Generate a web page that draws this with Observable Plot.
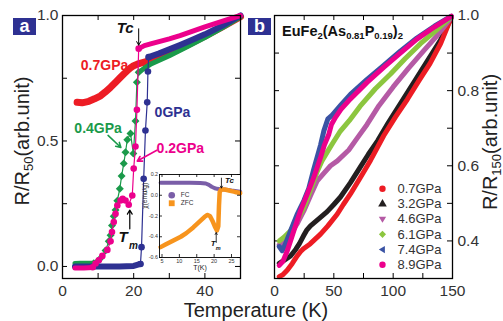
<!DOCTYPE html>
<html><head><meta charset="utf-8">
<script src="https://cdn.jsdelivr.net/npm/d3@7"></script>
<script src="https://cdn.jsdelivr.net/npm/@observablehq/plot@0.6"></script>
<style>
body{margin:0;background:#fff;}
#wrap{position:relative;width:503px;height:321px;overflow:hidden;background:#fff;font-family:"Liberation Sans",Arial,Helvetica,sans-serif;}
.box{position:absolute;width:23px;height:17px;background:#2e3192;color:#fff;font-weight:bold;font-size:18px;line-height:16px;text-align:center;}
.ylab{position:absolute;width:220px;height:24px;line-height:24px;text-align:center;font-size:20px;color:#222;transform:rotate(-90deg);white-space:nowrap;}
.ylab sub{font-size:13px;vertical-align:baseline;position:relative;top:4px;}
.xlab{position:absolute;width:220px;text-align:center;font-size:20px;line-height:20px;color:#222;white-space:nowrap;}
.title{position:absolute;font-size:14.5px;line-height:15px;font-weight:bold;color:#111;white-space:nowrap;}
.title sub{font-size:9.5px;vertical-align:baseline;position:relative;top:3px;}
</style></head>
<body>
<div id="wrap">
  <div class="box" style="left:13px;top:18px;">a</div>
  <div class="box" style="left:248px;top:18px;">b</div>
  <div class="ylab" style="left:-88px;top:129px;">R/R<sub>50</sub>(arb.unit)</div>
  <div class="ylab" style="left:380px;top:130px;">R/R<sub>150</sub>(arb.unit)</div>
  <div class="xlab" style="left:146px;top:300px;">Temperature (K)</div>
  <div class="title" style="left:282px;top:24px;">EuFe<sub>2</sub>(As<sub>0.81</sub>P<sub>0.19</sub>)<sub>2</sub></div>
</div>
<script>
// ---------------- Panel a data (T in K, R/R50) ----------------
const aXTicks = [0, 10, 20, 30, 40, 50];
const aXLabels = [0, 20, 40];
const aYTicks = [0, 0.25, 0.5, 0.75, 1.0];
const aYLabels = [0, 0.5, 1.0];

const aRed07 = [[4.1,0.654],[5.5,0.652],[7.4,0.658],[9,0.668],[10.7,0.68],[12,0.695],[13.5,0.714],[15,0.735],[16.3,0.754],[17.3,0.768],[18.2,0.78],[19.1,0.791],[20,0.8],[21,0.806],[22,0.81],[25,0.822],[30,0.848],[35,0.882],[40,0.918],[45,0.956],[50,0.995]];

const aGreenLow = [[3.5,0.012],[5,0.013],[7,0.013],[8.8,0.013]];
const aGreenMid = [[8.8,0.013],[9.8,0.02],[10.7,0.033],[12.1,0.064],[13,0.1],[13.5,0.124],[13.9,0.163],[14.4,0.2],[14.9,0.225],[15.4,0.262],[16.1,0.31],[16.6,0.36],[17.2,0.41],[17.7,0.455],[18.2,0.505],[19.1,0.53],[19.9,0.45],[20.5,0.58],[20.9,0.734],[21.4,0.774]];
const aGreenHigh = [[21.4,0.774],[23,0.79],[25,0.808],[30,0.84],[35,0.875],[40,0.912],[45,0.952],[50,0.995]];

const aBlueLow = [[3.5,0.0],[8,0.0],[12,0.0],[16,0.0],[20,0.002],[21.9,0.01]];
const aBlueMid = [[21.9,0.01],[22.2,0.077],[22.8,0.349],[23.3,0.542],[23.8,0.654],[24,0.777],[24.2,0.834]];
const aBlueHigh = [[24.2,0.834],[27,0.848],[30,0.865],[33,0.882],[36,0.9],[40,0.925],[45,0.96],[50,1.0]];

const aPinkLow = [[3.5,-0.006],[6,-0.006],[8.5,-0.004]];
const aPinkMid = [[8.5,-0.003],[9.3,0.012],[10.2,0.025],[11.2,0.042],[12.6,0.066],[13.5,0.1],[13.9,0.137],[14.4,0.177],[14.9,0.21],[15.4,0.243],[16.3,0.263],[16.9,0.27],[17.7,0.263],[18.6,0.246],[19.6,0.283],[20,0.39],[20.5,0.478],[20.9,0.624],[21.4,0.868]];
const aPinkHigh = [[21.4,0.868],[23,0.88],[25,0.888],[30,0.907],[33,0.92],[36,0.935],[40,0.955],[45,0.978],[50,1.0]];

const aLabels = [
  {text:"0.7GPa", T:11.8, R:0.801, color:"#ed1c24"},
  {text:"0GPa",   T:30.9, R:0.614, color:"#2e3192"},
  {text:"0.4GPa", T:10.0, R:0.55,  color:"#1a9a4a"},
  {text:"0.2GPa", T:33.1, R:0.469, color:"#ec008c"}
];
const aLeaders = [
  {T1:12.8, R1:0.522, T2:16.4, R2:0.474, color:"#1a9a4a"},
  {T1:26.5, R1:0.463, T2:21.0, R2:0.42,  color:"#ec008c"}
];
const aTcArrow = [{T1:21.4, R1:0.947, T2:21.4, R2:0.882}];
const aTmArrow = [{T1:18.9, R1:0.15, T2:18.9, R2:0.225}];

// ---------------- Inset data (T in K, chi emu/g) ----------------
const inXTicks = [5, 10, 15, 20, 25];
const inYTicks = [-0.6, -0.4, -0.2, 0.0, 0.2];
const inFC = [[4.6,0.12],[7,0.12],[10,0.12],[13,0.12],[16,0.119],[17.6,0.113],[18.5,0.1],[19.3,0.082],[20.2,0.068],[20.9,0.062],[21.8,0.058],[23,0.055],[25,0.045],[27.5,0.035]];
const inZFC = [[4.6,-0.5],[6,-0.475],[8,-0.44],[10.4,-0.4],[12,-0.365],[14,-0.31],[16.1,-0.245],[17.2,-0.21],[18,-0.19],[18.8,-0.2],[19.5,-0.245],[20.2,-0.3],[20.8,-0.34],[21.2,-0.3],[21.4,-0.1],[21.6,0.03],[22,0.055],[23,0.055],[24,0.048],[25,0.04],[26,0.032],[27.5,0.022]];
const inLegend = [{text:"FC", y:0.0, color:"#7a5ea8", symbol:"circle"},{text:"ZFC", y:-0.077, color:"#f7941d", symbol:"square"}];

// ---------------- Panel b data (T in K, R/R150) ----------------
const bXTicks = [0, 25, 50, 75, 100, 125, 150];
const bXLabels = [0, 50, 100, 150];
const bYTicks = [0.3, 0.4, 0.5, 0.6, 0.7, 0.8, 0.9, 1.0];
const bYLabels = [0.4, 0.6, 0.8, 1.0];
const pressures = ["0.7GPa","3.2GPa","4.6GPa","6.1GPa","7.4GPa","8.9GPa"];
const bColors = ["#ed1c24","#231f20","#b55aa5","#8cc63f","#3a53a4","#ec008c"];

const b07 = [[4,0.305],[7,0.31],[10.7,0.322],[15,0.34],[19.1,0.36],[22,0.372],[24.7,0.38],[30,0.392],[38.8,0.418],[45,0.44],[52.8,0.471],[58,0.497],[64,0.525],[72,0.567],[81,0.615],[92,0.68],[102,0.73],[112,0.777],[122,0.828],[131,0.872],[140,0.925],[149,0.995]];
const b32 = [[4,0.34],[8,0.348],[13.5,0.36],[18,0.378],[21,0.393],[24.7,0.415],[27,0.428],[30.3,0.44],[37,0.458],[44.4,0.478],[50,0.497],[55.6,0.517],[64,0.555],[72,0.595],[79,0.63],[87,0.667],[96,0.715],[106,0.765],[118,0.825],[129,0.88],[140,0.935],[149,0.995]];
const b46 = [[4,0.39],[8,0.4],[13.5,0.418],[19,0.445],[24.7,0.48],[30.3,0.52],[36,0.56],[41.5,0.58],[47.2,0.6],[53,0.613],[62.6,0.642],[70,0.675],[78,0.71],[88,0.76],[100,0.81],[113,0.86],[126,0.907],[138,0.95],[149,0.995]];
const b61 = [[4,0.4],[8,0.41],[13.5,0.427],[19,0.455],[24.7,0.489],[30.3,0.535],[36,0.585],[40,0.613],[44.5,0.637],[49,0.66],[55,0.69],[63,0.72],[72,0.758],[85,0.805],[98,0.845],[110,0.885],[123,0.925],[136,0.96],[149,0.997]];
const b74 = [[4,0.385],[6.5,0.374],[9,0.39],[13.5,0.427],[19,0.47],[24.7,0.507],[28.9,0.54],[33,0.59],[38.8,0.655],[41.6,0.693],[45,0.725],[48.6,0.735],[56,0.762],[64,0.79],[78,0.83],[92,0.867],[106,0.905],[120,0.94],[135,0.972],[149,0.998]];
const b89 = [[4,0.335],[7,0.345],[10.7,0.373],[13.5,0.4],[16.3,0.427],[21.9,0.48],[27.5,0.524],[33.1,0.569],[38.8,0.622],[42,0.655],[45.8,0.684],[48,0.71],[51.4,0.729],[56,0.75],[64,0.778],[78,0.822],[92,0.862],[106,0.9],[120,0.937],[135,0.97],[149,0.998]];
const bSeries = [b07, b32, b46, b61, b74, b89];

// ---------------- helpers ----------------
const FONT = '"Liberation Sans", Arial, Helvetica, sans-serif';
const wrap = document.getElementById("wrap");
function place(el, left, top) {
  el.style.position = "absolute";
  el.style.left = left + "px";
  el.style.top = top + "px";
  wrap.appendChild(el);
}
function inTicks(xs, ys, fw, fh, len, sw) {
  return [
    Plot.tickX(xs, {x: d => d, insetTop: fh - len, stroke: "#000", strokeWidth: sw}),
    Plot.tickX(xs, {x: d => d, insetBottom: fh - len, stroke: "#000", strokeWidth: sw}),
    Plot.tickY(ys, {y: d => d, insetRight: fw - len, stroke: "#000", strokeWidth: sw}),
    Plot.tickY(ys, {y: d => d, insetLeft: fw - len, stroke: "#000", strokeWidth: sw})
  ];
}
const X = d => d[0], Y = d => d[1];
const fmt1 = d => (d < 0 ? "-" : "") + Math.abs(d).toFixed(1);
const band = (data, color, w) => Plot.line(data, {x: X, y: Y, stroke: color, strokeWidth: w, strokeLinecap: "round", strokeLinejoin: "round"});
const thin = (data, color) => Plot.line(data, {x: X, y: Y, stroke: color, strokeWidth: 1.2});

const RED = "#ed1c24", GREEN = "#1a9a4a", BLUE = "#2e3192", PINK = "#ec008c";

// ---------------- Panel a ----------------
const pa = Plot.plot({
  width: 250, height: 321,
  marginLeft: 62, marginRight: 10, marginTop: 15, marginBottom: 43,
  x: {domain: [0, 50]},
  y: {domain: [-0.048, 1.0]},
  style: {fontFamily: FONT, background: "transparent", color: "#333", overflow: "visible"},
  marks: [
    ...inTicks(aXTicks, aYTicks, 178, 263, 5, 1),
    Plot.axisX(aXLabels, {anchor: "bottom", tickSize: 0, tickPadding: 6, fontSize: 15.5, label: null, tickFormat: d => String(d)}),
    Plot.axisY(aYLabels, {anchor: "left", tickSize: 0, tickPadding: 4, fontSize: 15.5, label: null, tickFormat: fmt1}),
    band(aRed07, RED, 7),
    band(aGreenLow, GREEN, 5),
    thin(aGreenMid, GREEN),
    Plot.dot(aGreenMid, {x: X, y: Y, symbol: "diamond2", r: 3.6, fill: GREEN}),
    band(aGreenHigh, GREEN, 5),
    band(aBlueLow, BLUE, 6),
    thin(aBlueMid, BLUE),
    Plot.dot(aBlueMid, {x: X, y: Y, r: 3.3, fill: BLUE}),
    band(aBlueHigh, BLUE, 6),
    band(aPinkLow, PINK, 5),
    thin(aPinkMid, PINK),
    Plot.dot(aPinkMid, {x: X, y: Y, r: 3.3, fill: PINK}),
    band(aPinkHigh, PINK, 5),
    Plot.text(aLabels, {x: "T", y: "R", text: "text", fill: "color", fontSize: 14, fontWeight: "bold"}),
    Plot.arrow(aLeaders, {x1: "T1", y1: "R1", x2: "T2", y2: "R2", stroke: "color", strokeWidth: 1.6, headLength: 5}),
    Plot.arrow(aTcArrow, {x1: "T1", y1: "R1", x2: "T2", y2: "R2", stroke: "#000", strokeWidth: 1, headLength: 6}),
    Plot.arrow(aTmArrow, {x1: "T1", y1: "R1", x2: "T2", y2: "R2", stroke: "#000", strokeWidth: 1.2, headLength: 6}),
    Plot.text(["Tc"], {x: 17.6, y: 0.95, fontSize: 15, fontWeight: "bold", fontStyle: "italic", fill: "#111"}),
    Plot.text(["T"], {x: 17.0, y: 0.117, fontSize: 15, fontWeight: "bold", fontStyle: "italic", fill: "#111"}),
    Plot.text(["m"], {x: 19.9, y: 0.082, fontSize: 10, fontWeight: "bold", fontStyle: "italic", fill: "#111"}),
    Plot.frame({stroke: "#000", strokeWidth: 1.3})
  ]
});
place(pa, 0, 0);

// ---------------- Inset ----------------
const pin = Plot.plot({
  width: 116, height: 114,
  marginLeft: 32, marginRight: 3, marginTop: 10, marginBottom: 21,
  x: {domain: [4.28, 27.59]},
  y: {domain: [-0.6, 0.2]},
  style: {fontFamily: FONT, background: "transparent", color: "#333", overflow: "visible"},
  marks: [
    Plot.frame({fill: "white", stroke: null}),
    Plot.line(inFC, {x: X, y: Y, stroke: "#7a5ea8", strokeWidth: 4, strokeLinecap: "round"}),
    Plot.line(inZFC, {x: X, y: Y, stroke: "#f7941d", strokeWidth: 4.5, strokeLinecap: "round", strokeLinejoin: "round"}),
    ...inTicks(inXTicks, inYTicks, 81, 83, 3, 0.8),
    Plot.axisX(inXTicks, {anchor: "bottom", tickSize: 0, tickPadding: 1.5, fontSize: 5.5, label: null, tickFormat: d => String(d)}),
    Plot.axisY(inYTicks, {anchor: "left", tickSize: 0, tickPadding: 1.5, fontSize: 5.3, label: null, tickFormat: fmt1}),
    Plot.text(["T(K)"], {frameAnchor: "bottom", dy: 12.5, fontSize: 7, fill: "#222"}),
    Plot.text(["\u03c7(emu/g)"], {y: -0.13, frameAnchor: "left", dx: -14.5, rotate: -90, fontSize: 6.5, fill: "#222"}),
    Plot.dot(inLegend, {x: 7.8, y: "y", symbol: "symbol", fill: "color", r: 3.3}),
    Plot.text(inLegend, {x: 10.4, y: "y", text: "text", fontSize: 6.5, textAnchor: "start", fill: "#333"}),
    Plot.arrow([{T1: 22.1, R1: 0.165, T2: 22.1, R2: 0.07}], {x1: "T1", y1: "R1", x2: "T2", y2: "R2", stroke: "#000", strokeWidth: 0.8, headLength: 4}),
    Plot.text(["Tc"], {x: 24.4, y: 0.14, fontSize: 8, fontWeight: "bold", fontStyle: "italic", fill: "#111"}),
    Plot.arrow([{T1: 20.6, R1: -0.455, T2: 20.6, R2: -0.36}], {x1: "T1", y1: "R1", x2: "T2", y2: "R2", stroke: "#000", strokeWidth: 0.8, headLength: 4}),
    Plot.text(["T"], {x: 19.7, y: -0.465, fontSize: 8, fontWeight: "bold", fontStyle: "italic", fill: "#111"}),
    Plot.text(["m"], {x: 21.2, y: -0.51, fontSize: 5.5, fontWeight: "bold", fontStyle: "italic", fill: "#111"}),
    Plot.frame({stroke: "#000", strokeWidth: 0.9})
  ]
});
place(pin, 127, 164);

// ---------------- Panel b ----------------
const symDown = {draw(ctx, size) { const r = Math.sqrt(size / Math.PI) * 1.15; ctx.moveTo(-r, -r * 0.65); ctx.lineTo(r, -r * 0.65); ctx.lineTo(0, r); ctx.closePath(); }};
const symLeft = {draw(ctx, size) { const r = Math.sqrt(size / Math.PI) * 1.15; ctx.moveTo(-r, 0); ctx.lineTo(r * 0.65, -r); ctx.lineTo(r * 0.65, r); ctx.closePath(); }};
const bSymbols = ["circle", "triangle", symDown, "diamond2", symLeft, "circle"];
const drawOrder = [1, 0, 2, 3, 4, 5];
const legX = 91, legTextX = 103.6, legY0 = 0.539, legStep = 0.0405;

const pb = Plot.plot({
  width: 253, height: 321,
  marginLeft: 24, marginRight: 51, marginTop: 15, marginBottom: 43,
  x: {domain: [0, 150]},
  y: {domain: [0.3, 1.0]},
  style: {fontFamily: FONT, background: "transparent", color: "#333", overflow: "visible"},
  marks: [
    ...inTicks(bXTicks, bYTicks, 178, 263, 5, 1),
    Plot.axisX(bXLabels, {anchor: "bottom", tickSize: 0, tickPadding: 6, fontSize: 15.5, label: null, tickFormat: d => String(d)}),
    Plot.axisY(bYLabels, {anchor: "right", tickSize: 0, tickPadding: 5, fontSize: 15.5, label: null, tickFormat: fmt1}),
    ...drawOrder.map(i => band(bSeries[i], bColors[i], 5)),
    ...pressures.map((p, i) => Plot.dot([p], {x: legX, y: legY0 - i * legStep, symbol: bSymbols[i], fill: bColors[i], r: 3.2})),
    Plot.text(pressures, {x: legTextX, y: (d, i) => legY0 - i * legStep, text: d => d, fontSize: 13, textAnchor: "start", fill: "#333"}),
    Plot.frame({stroke: "#000", strokeWidth: 1.3})
  ]
});
place(pb, 250, 0);
</script>
</body></html>
